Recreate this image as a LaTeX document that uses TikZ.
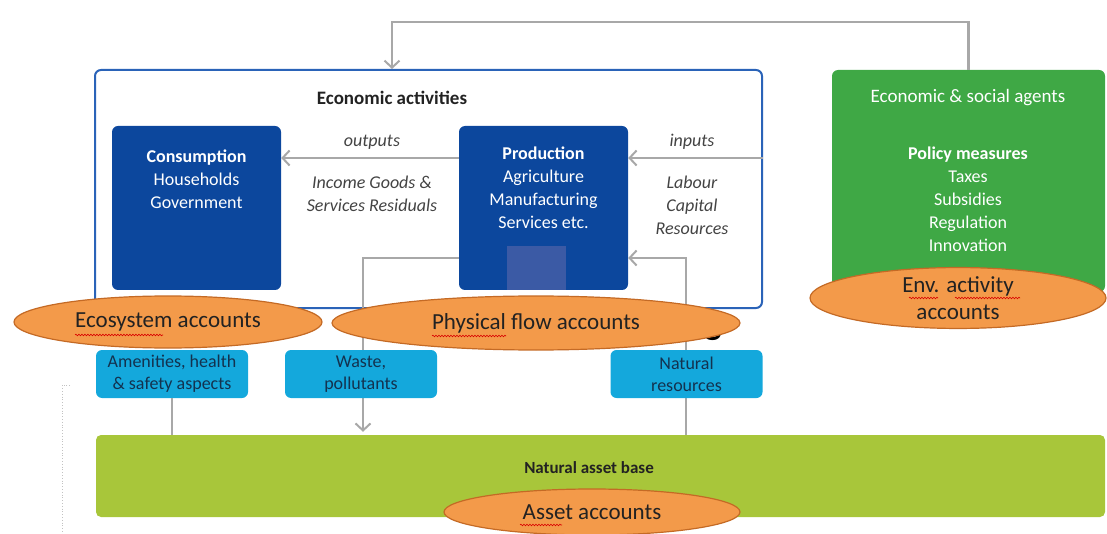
\documentclass[tikz,border=0pt]{standalone}
\usepackage{fontspec}
\setmainfont{Carlito}
\usetikzlibrary{calc,arrows.meta,shapes.geometric,decorations.pathmorphing}
\definecolor{econblue}{HTML}{2A63B8}
\definecolor{deepblue}{HTML}{0C479D}
\definecolor{patchblue}{HTML}{3B5AA5}
\definecolor{agentgreen}{HTML}{3FA845}
\definecolor{flowcyan}{HTML}{14A8DC}
\definecolor{assetlime}{HTML}{A8C63A}
\definecolor{acctorange}{HTML}{F39A4A}
\definecolor{acctedge}{HTML}{C46A25}
\definecolor{linegray}{HTML}{A8A8A8}
\definecolor{txtdark}{HTML}{222222}
\definecolor{txtnavy}{HTML}{13324F}

\begin{document}
\begin{tikzpicture}[x=1pt,y=-1pt,
  font=\fontsize{18}{23}\selectfont,
  flow/.style={draw=linegray,line width=2.4pt,-{Straight Barb[length=7pt,width=15pt,line width=2pt]}},
  plain/.style={draw=linegray,line width=2.4pt},
  sectorbox/.style={fill=deepblue,rounded corners=6pt,minimum width=169,minimum height=164,inner sep=0pt},
  itemtxt/.style={text=white,align=center,font=\fontsize{18}{23}\selectfont},
  flowbox/.style={fill=flowcyan,rounded corners=6pt,minimum width=152,minimum height=48,inner sep=0pt,
    text=txtnavy,align=center,font=\fontsize{18}{22}\selectfont},
  note/.style={text=txtdark!85,align=center,font=\itshape\fontsize{18}{23}\selectfont},
  acct/.style={ellipse,fill=acctorange,draw=acctedge,line width=1.2pt,inner sep=0pt,
    text=txtdark,align=center,font=\fontsize{23}{27}\selectfont},
  squiggle/.style={draw=red!85!black,line width=0.6pt,decorate,
    decoration={snake,amplitude=0.8pt,segment length=3pt}}]
\useasboundingbox(0,0)rectangle(1107,534);
%helper rows and columns
\coordinate(toprow)at(0,22);
\coordinate(midrow)at(0,158);
\coordinate(lowrow)at(0,258);
\coordinate(topcol)at(392,0);
\coordinate(leftcol)at(363,0);
\coordinate(rightcol)at(686,0);
%economic activities frame
\node[draw=econblue,line width=2pt,rounded corners=6pt,minimum width=667,minimum height=238,inner sep=0pt](econ)at(428.5,189){};
\node[text=txtdark,font=\bfseries\fontsize{19}{22}\selectfont](econtitle)at(392,98){Economic activities};
\node[sectorbox](cons)at(196.5,208){};
\node[sectorbox](prod)at(543.5,208){};
\node[fill=patchblue,minimum width=59,minimum height=44,inner sep=0pt](patch)at(536.5,268){};
\node[itemtxt,anchor=north](constxt)at(196.5,146){\textbf{Consumption}\\Households\\Government};
\node[itemtxt,anchor=north](prodtxt)at(543.5,143){\textbf{Production}\\Agriculture\\Manufacturing\\Services etc.};
%agents
\node[fill=agentgreen,rounded corners=6pt,minimum width=273,minimum height=222,inner sep=0pt](agents)at(968.5,181){};
\node[text=white,font=\fontsize{19}{22}\selectfont](agenttitle)at(968,98){Economic \& social agents};
\node[itemtxt,anchor=north](policy)at(968,143){\textbf{Policy measures}\\Taxes\\Subsidies\\Regulation\\Innovation};
%natural asset base
\node[fill=assetlime,rounded corners=5pt,minimum width=1009,minimum height=82,inner sep=0pt](base)at(600.5,476){};
\node[text=txtdark,font=\bfseries\fontsize{17}{20}\selectfont](basetitle)at(589,468){Natural asset base};
%flows
\path[flow](prod.west|-midrow)to(cons.east|-midrow);
\path[flow](econ.east|-midrow)to(prod.east|-midrow);
\path[flow](agents.north)--(agents.north|-toprow)-|(econ.north-|topcol);
\path[flow](base.north-|rightcol)|-(prod.east|-lowrow);
\path[flow](prod.west|-lowrow)-|($(base.north-|leftcol)+(0,-3)$);
\node[note](outlbl)at(372,142){outputs};
\node[note,anchor=north](outtxt)at(372,172){Income Goods \&\\Services Residuals};
\node[note](inlbl)at(692,142){inputs};
\node[note,anchor=north](intxt)at(692,172){Labour\\Capital\\Resources};
%flow boxes
\node[flowbox](amen)at(172,374){Amenities, health\\\& safety aspects};
\node[flowbox](waste)at(361,374){Waste,\\pollutants};
\node[flowbox](natres)at(686.5,374){Natural\\resources};
\path[plain](amen.south)to(amen.south|-base.north);
%left dotted mark
\coordinate(dottop)at(62,385);
\path[draw=linegray!70,dotted,line width=0.8pt]($(dottop)+(8,0)$)--(dottop)--(62,534);
%accounts
\node[text=black,font=\bfseries\fontsize{36}{36}\selectfont,anchor=base](hiddeng)at(713,334){g};
\node[acct,minimum width=308,minimum height=52](eco)at(168,322){Ecosystem accounts};
\node[acct,minimum width=408,minimum height=54](phys)at(536,323){Physical flow accounts};
\node[acct,minimum width=296,minimum height=54](env)at(958,298){Env. activity\\accounts};
\node[acct,minimum width=296,minimum height=46](asset)at(592,512){Asset accounts};
%spelling marks
\path[squiggle]($(eco.center)+(-93,13)$)to($(eco.center)+(-5,13)$);
\path[squiggle]($(phys.center)+(-104,13)$)to($(phys.center)+(-30,13)$);
\path[squiggle]($(env.center)+(-49,0)$)to($(env.center)+(-20,0)$);
\path[squiggle]($(env.center)+(-3,0)$)to($(env.center)+(62,0)$);
\path[squiggle]($(asset.center)+(-72,13)$)to($(asset.center)+(-30,13)$);
\end{tikzpicture}
\end{document}
